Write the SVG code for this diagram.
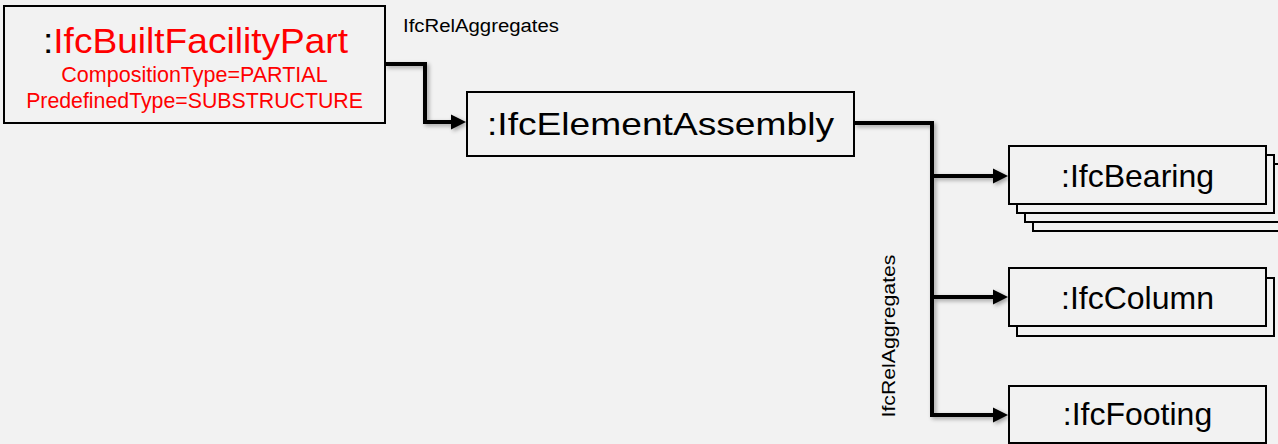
<svg xmlns="http://www.w3.org/2000/svg" width="1278" height="444" viewBox="0 0 1278 444">
<style>
.box{fill:#f2f2f2;stroke:#000;stroke-width:2}
.lbl{font-family:"Liberation Sans",Arial,sans-serif;fill:#000}
.red{fill:#ff0000}
.con{fill:none;stroke:#000;stroke-width:4;stroke-linejoin:miter}
</style>
<defs>
<marker id="arr" markerUnits="userSpaceOnUse" markerWidth="18" markerHeight="18" refX="3" refY="8" orient="auto">
<path d="M0,0.5 L15,8 L0,15.5 Z" fill="#000"/>
</marker>
<filter id="sh" x="-10%" y="-10%" width="130%" height="130%">
<feGaussianBlur in="SourceAlpha" stdDeviation="2"/>
<feOffset dx="2" dy="2" result="b"/>
<feComponentTransfer><feFuncA type="linear" slope="0.35"/></feComponentTransfer>
<feMerge><feMergeNode/><feMergeNode in="SourceGraphic"/></feMerge>
</filter>
</defs>
<rect width="1278" height="444" fill="#f2f2f2"/>

<g id="connectors">
<g filter="url(#sh)">
<path class="con" d="M385,64 H425 V122 H454" marker-end="url(#arr)"/>
<path class="con" d="M854,123 H932 V415 H996" marker-end="url(#arr)"/>
<path class="con" d="M932,176 H996" marker-end="url(#arr)"/>
<path class="con" d="M932,297 H996" marker-end="url(#arr)"/>
</g>
<text class="lbl" x="403" y="32" font-size="18" textLength="156" lengthAdjust="spacingAndGlyphs">IfcRelAggregates</text>
<text class="lbl" x="895" y="336" font-size="19" text-anchor="middle" transform="rotate(-90 895 336)" textLength="163" lengthAdjust="spacingAndGlyphs">IfcRelAggregates</text>
</g>

<g id="IfcBuiltFacilityPart">
<rect class="box" x="4" y="6" width="381" height="117"/>
<text class="lbl" x="43" y="53" font-size="35" textLength="305" lengthAdjust="spacingAndGlyphs">:<tspan class="red">IfcBuiltFacilityPart</tspan></text>
<text class="lbl red" x="194.5" y="82" font-size="21.5" text-anchor="middle">CompositionType=PARTIAL</text>
<text class="lbl red" x="194.5" y="108" font-size="21.3" text-anchor="middle">PredefinedType=SUBSTRUCTURE</text>
</g>

<g id="IfcElementAssembly">
<rect class="box" x="467" y="92" width="387" height="64"/>
<text class="lbl" x="487" y="135" font-size="32" textLength="347" lengthAdjust="spacingAndGlyphs">:IfcElementAssembly</text>
</g>

<g id="IfcBearing">
<rect class="box" x="1033" y="173" width="257" height="58"/>
<rect class="box" x="1025" y="164" width="257" height="58"/>
<rect class="box" x="1017" y="155" width="257" height="58"/>
<rect class="box" x="1009" y="146" width="257" height="58"/>
<text class="lbl" x="1137.5" y="187" font-size="32" text-anchor="middle">:IfcBearing</text>
</g>

<g id="IfcColumn">
<rect class="box" x="1017" y="278" width="257" height="58"/>
<rect class="box" x="1009" y="268" width="257" height="58"/>
<text class="lbl" x="1137.5" y="309" font-size="32" text-anchor="middle">:IfcColumn</text>
</g>

<g id="IfcFooting">
<rect class="box" x="1009" y="386" width="257" height="57"/>
<text class="lbl" x="1137.5" y="425" font-size="32" text-anchor="middle">:IfcFooting</text>
</g>
</svg>
